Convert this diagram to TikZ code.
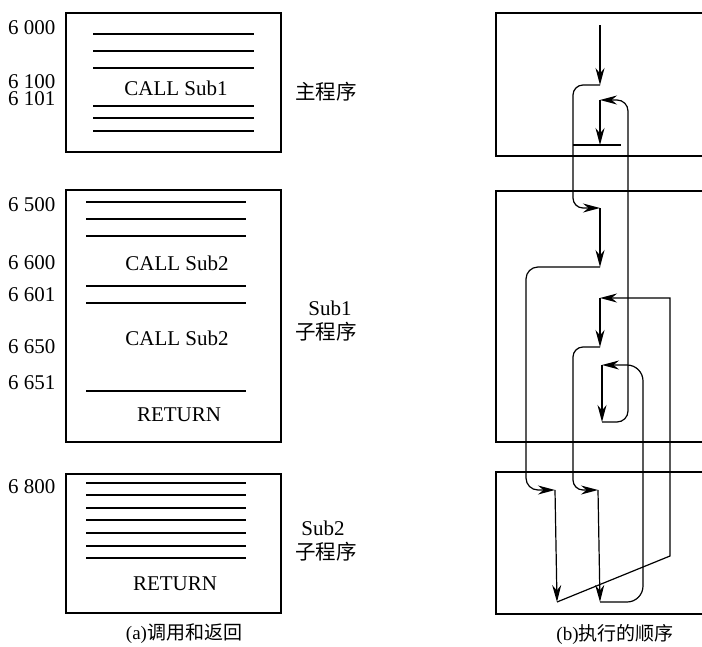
\documentclass[tikz,border=0pt]{standalone}
\usepackage{fontspec}
\setmainfont{Liberation Serif}
\newfontfamily\cjk{Noto Sans CJK SC}
\usetikzlibrary{arrows.meta}
\begin{document}
\begin{tikzpicture}[x=1pt,y=-1pt,
  boxline/.style={line width=1.4pt},
  hrule/.style={line width=1.2pt},
  flow/.style={line width=1.2pt},
  arr/.style={-{Stealth[length=17pt,width=9pt]}},
  lbl/.style={font=\fontsize{21}{25}\selectfont, inner sep=0pt},
  num/.style={lbl, anchor=west},
  zh/.style={font=\fontsize{20.5}{24}\selectfont\cjk, inner sep=0pt},
  captxt/.style={font=\fontsize{19}{22}\selectfont, inner sep=0pt}]
\useasboundingbox (0,0) rectangle (702,646);

% ---------- (a) ----------
\draw[boxline] (66,13) rectangle (281,152);
\foreach \y in {34,51,68,106,118,131} \draw[hrule] (93,\y) -- (254,\y);
\draw[boxline] (66,190) rectangle (281,442);
\foreach \y in {202,219,236,286,303,391} \draw[hrule] (86,\y) -- (246,\y);
\draw[boxline] (66,474) rectangle (281,613);
\foreach \y in {483,495,508,520,533,546,558} \draw[hrule] (86,\y) -- (246,\y);

\node[lbl] (call1) at (176,88) {CALL Sub1};
\node[lbl] (call2a) at (177,263) {CALL Sub2};
\node[lbl] (call2b) at (177,338) {CALL Sub2};
\node[lbl] (ret1) at (179,415) {RETURN};
\node[lbl] (ret2) at (175,584) {RETURN};

\node[num] (n6000) at (8,28) {6 000};
\node[num, align=left, font=\fontsize{21}{17}\selectfont] (n6100) at (8,90.4) {6 100\\6 101};
\node[num] (n6500) at (8,205) {6 500};
\node[num] (n6600) at (8,263) {6 600};
\node[num] (n6601) at (8,295) {6 601};
\node[num] (n6650) at (8,347) {6 650};
\node[num] (n6651) at (8,383) {6 651};
\node[num] (n6800) at (8,487) {6 800};

\node[zh] (mainlbl) at (326,92) {主程序};
\node[lbl] (sub1a) at (330,308) {Sub1};
\node[zh] (sub1b) at (326,332) {子程序};
\node[lbl] (sub2a) at (323,528) {Sub2};
\node[zh] (sub2b) at (326,552) {子程序};

\node[captxt] (capa) at (184,634) {(a)\cjk 调用和返回};
\node[captxt] (capb) at (615,634) {(b)\cjk 执行的顺序};

% ---------- (b) ----------
\draw[boxline] (702,13) -- (496,13) -- (496,156) -- (702,156);
\draw[boxline] (702,191) -- (496,191) -- (496,442) -- (702,442);
\draw[boxline] (702,472) -- (496,472) -- (496,614) -- (702,614);

\coordinate (s0) at (600,25);
\coordinate (s1) at (600,85);
\coordinate (s2) at (600,208);
\coordinate (s3) at (600,267);
\coordinate (s4) at (555,490);
\coordinate (s5) at (557,602);
\coordinate (s6) at (600,298);
\coordinate (s7) at (600,347);
\coordinate (s8) at (598,490);
\coordinate (s9) at (600,602);
\coordinate (s10) at (602,365);
\coordinate (s11) at (602,422);
\coordinate (s12) at (600,100);
\coordinate (s13) at (600,145);

\draw[flow,arr] (s0) -- (s1);
\draw[flow,arr,rounded corners=10pt] (s1) -- (573,85) -- (573,208) -- (s2);
\draw[flow,arr] (s2) -- (s3);
\draw[flow,arr,rounded corners=12pt] (s3) -- (526,267) -- (526,490) -- (s4);
\draw[flow,arr] (s4) -- (s5);
\draw[flow,arr] (s5) -- (670,556) -- (670,298) -- (s6);
\draw[flow,arr] (s6) -- (s7);
\draw[flow,arr,rounded corners=10pt] (s7) -- (573,347) -- (573,490) -- (s8);
\draw[flow,arr] (s8) -- (s9);
\draw[flow,arr,rounded corners=16pt] (s9) -- (643,602) -- (643,365) -- (s10);
\draw[flow,arr] (s10) -- (s11);
\draw[flow,arr,rounded corners=11pt] (s11) -- (628,422) -- (628,100) -- (s12);
\draw[flow,arr] (s12) -- (s13);
\draw[hrule] (573,145) -- (621,145);
\end{tikzpicture}
\end{document}
